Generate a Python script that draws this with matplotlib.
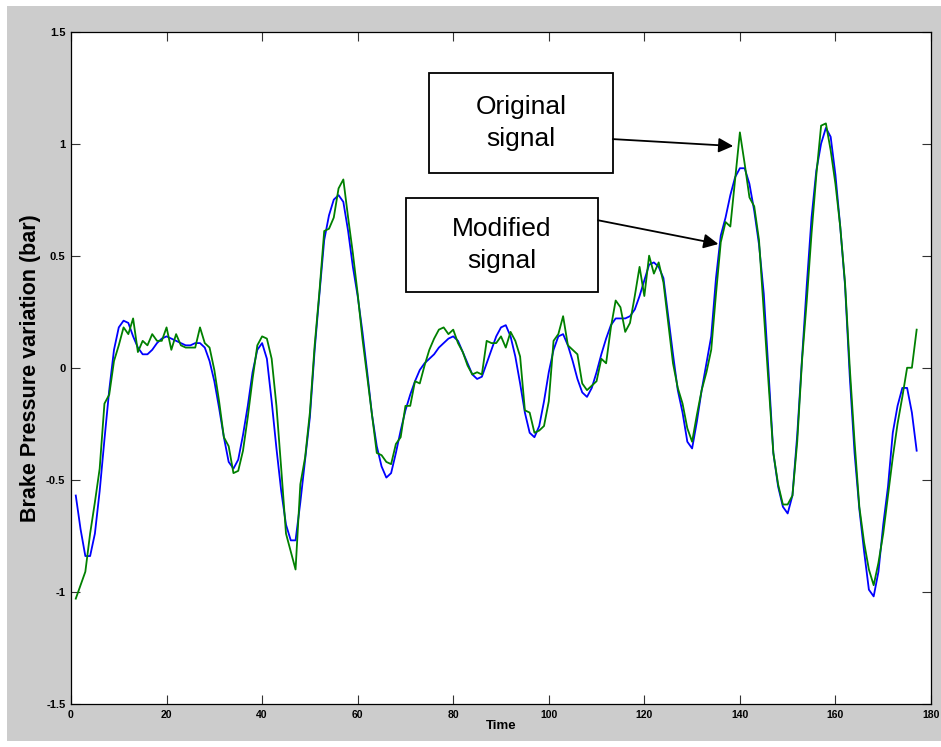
import matplotlib
matplotlib.use("Agg")
import matplotlib.pyplot as plt
from matplotlib.patches import Rectangle
import numpy as np

# Sample index (time steps)
time = np.arange(1, 178)

# Original brake pressure variation (bar)
original = [
    -1.03, -0.97, -0.91, -0.74, -0.60, -0.45, -0.16, -0.12, 0.03, 0.10,
    0.18, 0.15, 0.22, 0.07, 0.12, 0.10, 0.15, 0.12, 0.12, 0.18,
    0.08, 0.15, 0.10, 0.09, 0.09, 0.09, 0.18, 0.11, 0.09, -0.01,
    -0.15, -0.31, -0.35, -0.47, -0.46, -0.37, -0.22, -0.05, 0.10, 0.14,
    0.13, 0.04, -0.17, -0.45, -0.74, -0.82, -0.90, -0.52, -0.40, -0.20,
    0.10, 0.34, 0.61, 0.62, 0.67, 0.80, 0.84, 0.67, 0.51, 0.33,
    0.13, -0.04, -0.21, -0.38, -0.39, -0.42, -0.43, -0.34, -0.31, -0.17,
    -0.17, -0.06, -0.07, 0.01, 0.08, 0.13, 0.17, 0.18, 0.15, 0.17,
    0.11, 0.07, 0.01, -0.03, -0.02, -0.03, 0.12, 0.11, 0.11, 0.14,
    0.09, 0.16, 0.12, 0.05, -0.19, -0.20, -0.29, -0.28, -0.26, -0.15,
    0.12, 0.15, 0.23, 0.10, 0.08, 0.06, -0.07, -0.10, -0.08, -0.06,
    0.04, 0.02, 0.18, 0.30, 0.27, 0.16, 0.20, 0.32, 0.45, 0.32,
    0.50, 0.42, 0.47, 0.38, 0.20, 0.02, -0.09, -0.16, -0.27, -0.33,
    -0.21, -0.10, -0.02, 0.08, 0.33, 0.56, 0.65, 0.63, 0.84, 1.05,
    0.91, 0.76, 0.72, 0.57, 0.25, -0.07, -0.38, -0.52, -0.61, -0.61,
    -0.57, -0.33, 0.03, 0.30, 0.60, 0.86, 1.08, 1.09, 0.97, 0.82,
    0.63, 0.38, 0.00, -0.33, -0.62, -0.78, -0.90, -0.97, -0.87, -0.74,
    -0.57, -0.40, -0.25, -0.13, 0.00, 0.00, 0.17,
]

# Modified (smoothed) brake pressure variation (bar)
modified = [
    -0.57, -0.72, -0.84, -0.84, -0.74, -0.55, -0.32, -0.10, 0.08, 0.18,
    0.21, 0.20, 0.14, 0.09, 0.06, 0.06, 0.08, 0.11, 0.13, 0.14,
    0.13, 0.12, 0.11, 0.10, 0.10, 0.11, 0.11, 0.09, 0.03, -0.06,
    -0.18, -0.31, -0.42, -0.45, -0.41, -0.30, -0.17, -0.02, 0.08, 0.11,
    0.04, -0.15, -0.36, -0.55, -0.70, -0.77, -0.77, -0.60, -0.41, -0.22,
    0.08, 0.33, 0.57, 0.68, 0.75, 0.77, 0.74, 0.61, 0.45, 0.32,
    0.16, -0.02, -0.21, -0.35, -0.44, -0.49, -0.47, -0.38, -0.28, -0.19,
    -0.12, -0.06, -0.01, 0.02, 0.04, 0.06, 0.09, 0.11, 0.13, 0.14,
    0.12, 0.07, 0.02, -0.03, -0.05, -0.04, 0.02, 0.08, 0.14, 0.18,
    0.19, 0.14, 0.05, -0.07, -0.20, -0.29, -0.31, -0.26, -0.15, -0.02,
    0.08, 0.14, 0.15, 0.10, 0.03, -0.05, -0.11, -0.13, -0.09, -0.02,
    0.06, 0.13, 0.19, 0.22, 0.22, 0.22, 0.23, 0.26, 0.32, 0.39,
    0.46, 0.47, 0.45, 0.40, 0.23, 0.06, -0.10, -0.20, -0.33, -0.36,
    -0.24, -0.10, 0.02, 0.14, 0.40, 0.59, 0.67, 0.77, 0.85, 0.89,
    0.89, 0.82, 0.70, 0.55, 0.33, -0.02, -0.38, -0.53, -0.62, -0.65,
    -0.57, -0.30, 0.04, 0.37, 0.67, 0.88, 1.00, 1.07, 1.03, 0.86,
    0.63, 0.37, -0.04, -0.38, -0.63, -0.82, -0.99, -1.02, -0.91, -0.70,
    -0.53, -0.29, -0.17, -0.09, -0.09, -0.20, -0.37,
]

x_ticks = [0, 20, 40, 60, 80, 100, 120, 140, 160, 180]
y_ticks = [-1.5, -1, -0.5, 0, 0.5, 1, 1.5]
y_tick_labels = ["-1.5", "-1", "-0.5", "0", "0.5", "1", "1.5"]

W, H = 941, 747
fig = plt.figure(figsize=(W / 100, H / 100), dpi=100)
fig.patch.set_facecolor("white")

# grey figure panel behind the axes
panel = Rectangle((7 / W, 6 / H), 1 - 7 / W, (741 - 6) / H,
                  transform=fig.transFigure, facecolor="#cccccc",
                  edgecolor="none", zorder=-10)
fig.add_artist(panel)

ax = fig.add_axes([71 / W, (H - 704) / H, 860 / W, 672.5 / H])
ax.set_zorder(1)
ax.set_facecolor("white")

ax.plot(time, modified, color="#0000ff", lw=1.3, zorder=3)
ax.plot(time, original, color="#008000", lw=1.3, zorder=4)

ax.set_xlim(0, 180)
ax.set_ylim(-1.5, 1.5)
ax.set_xticks(x_ticks)
ax.set_xticklabels([str(v) for v in x_ticks])
ax.set_yticks(y_ticks)
ax.set_yticklabels(y_tick_labels)

for lab in ax.get_xticklabels():
    lab.set_fontfamily(["Liberation Sans Narrow", "Liberation Sans"])
    lab.set_fontweight("bold")
    lab.set_fontsize(7.5)
for lab in ax.get_yticklabels():
    lab.set_fontfamily(["Liberation Sans Narrow", "Liberation Sans"])
    lab.set_fontweight("bold")
    lab.set_fontsize(8)

ax.tick_params(direction="in", length=6.5, width=0.8, top=True, right=True,
               color="#333333", pad=4)
for sp in ax.spines.values():
    sp.set_linewidth(0.9)
    sp.set_color("black")

ax.set_xlabel("Time", fontfamily="Liberation Sans", fontweight="bold",
              fontsize=9.5, labelpad=0)
ax.set_ylabel("Brake Pressure variation (bar)", fontfamily="Liberation Sans",
              fontweight="bold", fontsize=15.5, labelpad=4)

# annotation boxes with arrows
boxes = [
    ("Original\nsignal", (74.9, 0.869), (113.4, 1.313), (113.4, 1.02), (138.6, 0.989)),
    ("Modified\nsignal", (70.1, 0.336), (110.3, 0.758), (110.3, 0.658), (135.5, 0.552)),
]
for text, (x0, y0), (x1, y1), start, tip in boxes:
    ax.add_patch(Rectangle((x0, y0), x1 - x0, y1 - y0, facecolor="white",
                           edgecolor="black", lw=1.3, zorder=6))
    ax.text((x0 + x1) / 2, (y0 + y1) / 2, text, ha="center", va="center",
            fontfamily="Liberation Sans", fontsize=19, linespacing=1.45,
            zorder=7)
    ax.annotate("", xy=tip, xytext=start,
                arrowprops=dict(arrowstyle="-|>", color="black", lw=1.3,
                                mutation_scale=22, shrinkA=0, shrinkB=0),
                zorder=7)

fig.savefig("out.png", dpi=100, facecolor=fig.get_facecolor())
